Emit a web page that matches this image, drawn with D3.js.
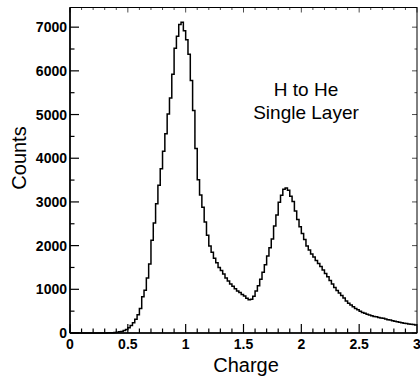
<!DOCTYPE html>
<html>
<head>
<meta charset="utf-8">
<script src="https://cdn.jsdelivr.net/npm/d3@7"></script>
<style>
  body { margin: 0; background: #fff; }
  svg { display: block; }
  .tick-label { font-family: "Liberation Sans", Arial, sans-serif; font-weight: bold; font-size: 14px; }
  .title { font-family: "Liberation Sans", Arial, sans-serif; font-size: 20px; }
  .note { font-family: "Liberation Sans", Arial, sans-serif; font-size: 19px; }
</style>
</head>
<body>
<svg id="chart" width="420" height="376"></svg>
<script>
// histogram: 150 bins of width 0.02 starting at charge 0
const binStart = 0;
const binWidth = 0.02;
const counts = [
  0, 0, 0, 0, 0, 0, 0, 0, 0, 0, 0, 0, 0, 0, 1,
  2, 3, 4, 8, 11, 18, 26, 37, 55, 82,
  118, 170, 235, 315, 420, 560, 830, 980, 1260, 1580,
  2120, 2520, 2960, 3380, 3760, 4160, 4560, 5010, 5380, 5920,
  6520, 6790, 7060, 7110, 6920, 6710, 6380, 5780, 5090, 4220,
  3510, 3160, 2880, 2540, 2240, 1990, 1850, 1710, 1610, 1500,
  1430, 1350, 1260, 1190, 1120, 1070, 1010, 960, 925, 880,
  845, 795, 760, 770, 840, 960, 1080, 1230, 1390, 1560,
  1760, 1950, 2150, 2450, 2700, 2990, 3150, 3290, 3320, 3270,
  3130, 3010, 2790, 2600, 2430, 2280, 2140, 1990, 1900, 1810,
  1740, 1660, 1590, 1520, 1440, 1360, 1290, 1200, 1120, 1040,
  975, 915, 860, 800, 730, 680, 640, 600, 560, 530,
  500, 470, 450, 430, 410, 395, 380, 370, 355, 345,
  335, 320, 305, 295, 280, 268, 258, 245, 235, 225,
  215, 208, 200, 192, 185
];

const xTicks = [0, 0.5, 1, 1.5, 2, 2.5, 3];
const xTickLabels = ["0", "0.5", "1", "1.5", "2", "2.5", "3"];
const yTicks = [0, 1000, 2000, 3000, 4000, 5000, 6000, 7000];
const xMinorStep = 0.1;
const yMinorStep = 500;
const xTitle = "Charge";
const yTitle = "Counts";
const noteLines = ["H to He", "Single Layer"];

const svg = d3.select("#chart");
const plot = {left: 70, right: 417, top: 7.5, bottom: 333};

const x = d3.scaleLinear().domain([0, 3]).range([plot.left, plot.right]);
const y = d3.scaleLinear().domain([0, 7450]).range([plot.bottom, plot.top]);

// frame
svg.append("rect")
  .attr("x", plot.left).attr("y", plot.top)
  .attr("width", plot.right - plot.left).attr("height", plot.bottom - plot.top)
  .attr("fill", "none").attr("stroke", "#000").attr("stroke-width", 1);

// minor / major ticks (pointing inward), mirrored on top and right
const xMinor = d3.range(0, 3.0001, xMinorStep).filter(v => Math.abs(v * 2 - Math.round(v * 2)) > 1e-6);
const yMinor = d3.range(yMinorStep, 7450, 1000);

const tickG = svg.append("g").attr("stroke", "#000").attr("stroke-width", 1.2);
xTicks.forEach(v => {
  tickG.append("line").attr("x1", x(v)).attr("x2", x(v)).attr("y1", plot.bottom).attr("y2", plot.bottom - 9);
  tickG.append("line").attr("x1", x(v)).attr("x2", x(v)).attr("y1", plot.top).attr("y2", plot.top + 5).attr("stroke-width", 0.7);
});
xMinor.forEach(v => {
  tickG.append("line").attr("x1", x(v)).attr("x2", x(v)).attr("y1", plot.bottom).attr("y2", plot.bottom - 4.5);
  tickG.append("line").attr("x1", x(v)).attr("x2", x(v)).attr("y1", plot.top).attr("y2", plot.top + 2.5).attr("stroke-width", 0.7);
});
yTicks.forEach(v => {
  tickG.append("line").attr("x1", plot.left).attr("x2", plot.left + 9).attr("y1", y(v)).attr("y2", y(v));
  tickG.append("line").attr("x1", plot.right).attr("x2", plot.right - 5).attr("y1", y(v)).attr("y2", y(v)).attr("stroke-width", 0.7);
});
yMinor.forEach(v => {
  tickG.append("line").attr("x1", plot.left).attr("x2", plot.left + 4.5).attr("y1", y(v)).attr("y2", y(v));
  tickG.append("line").attr("x1", plot.right).attr("x2", plot.right - 2.5).attr("y1", y(v)).attr("y2", y(v)).attr("stroke-width", 0.7);
});

// heavier left and bottom axis lines
svg.append("line").attr("x1", plot.left).attr("x2", plot.left).attr("y1", plot.top).attr("y2", plot.bottom)
  .attr("stroke", "#000").attr("stroke-width", 1.6);
svg.append("line").attr("x1", plot.left).attr("x2", plot.right).attr("y1", plot.bottom).attr("y2", plot.bottom)
  .attr("stroke", "#000").attr("stroke-width", 1.6);

// tick labels
svg.selectAll(".xl").data(xTicks).join("text")
  .attr("class", "tick-label")
  .attr("x", d => x(d)).attr("y", 349)
  .attr("text-anchor", "middle")
  .text((d, i) => xTickLabels[i]);

svg.selectAll(".yl").data(yTicks).join("text")
  .attr("class", "tick-label")
  .attr("x", plot.left - 3).attr("y", d => y(d) + 5)
  .attr("text-anchor", "end")
  .text(d => d);

// axis titles
svg.append("text").attr("class", "title")
  .attr("x", 246).attr("y", 372)
  .attr("text-anchor", "middle").text(xTitle);
svg.append("text").attr("class", "title")
  .attr("transform", "translate(26,158) rotate(-90)")
  .attr("text-anchor", "middle").text(yTitle);

// histogram outline
const pts = [[binStart, 0]];
counts.forEach((c, i) => {
  pts.push([binStart + i * binWidth, c]);
});
pts.push([binStart + counts.length * binWidth, counts[counts.length - 1]]);

const line = d3.line()
  .x(d => x(d[0]))
  .y(d => y(d[1]))
  .curve(d3.curveStepAfter);

svg.append("path")
  .datum(pts)
  .attr("d", line)
  .attr("fill", "none")
  .attr("stroke", "#000")
  .attr("stroke-width", 1.5);

// annotation
svg.selectAll(".note").data(noteLines).join("text")
  .attr("class", "note")
  .attr("x", 306).attr("y", (d, i) => 96 + i * 23)
  .attr("text-anchor", "middle")
  .text(d => d);
</script>
</body>
</html>
